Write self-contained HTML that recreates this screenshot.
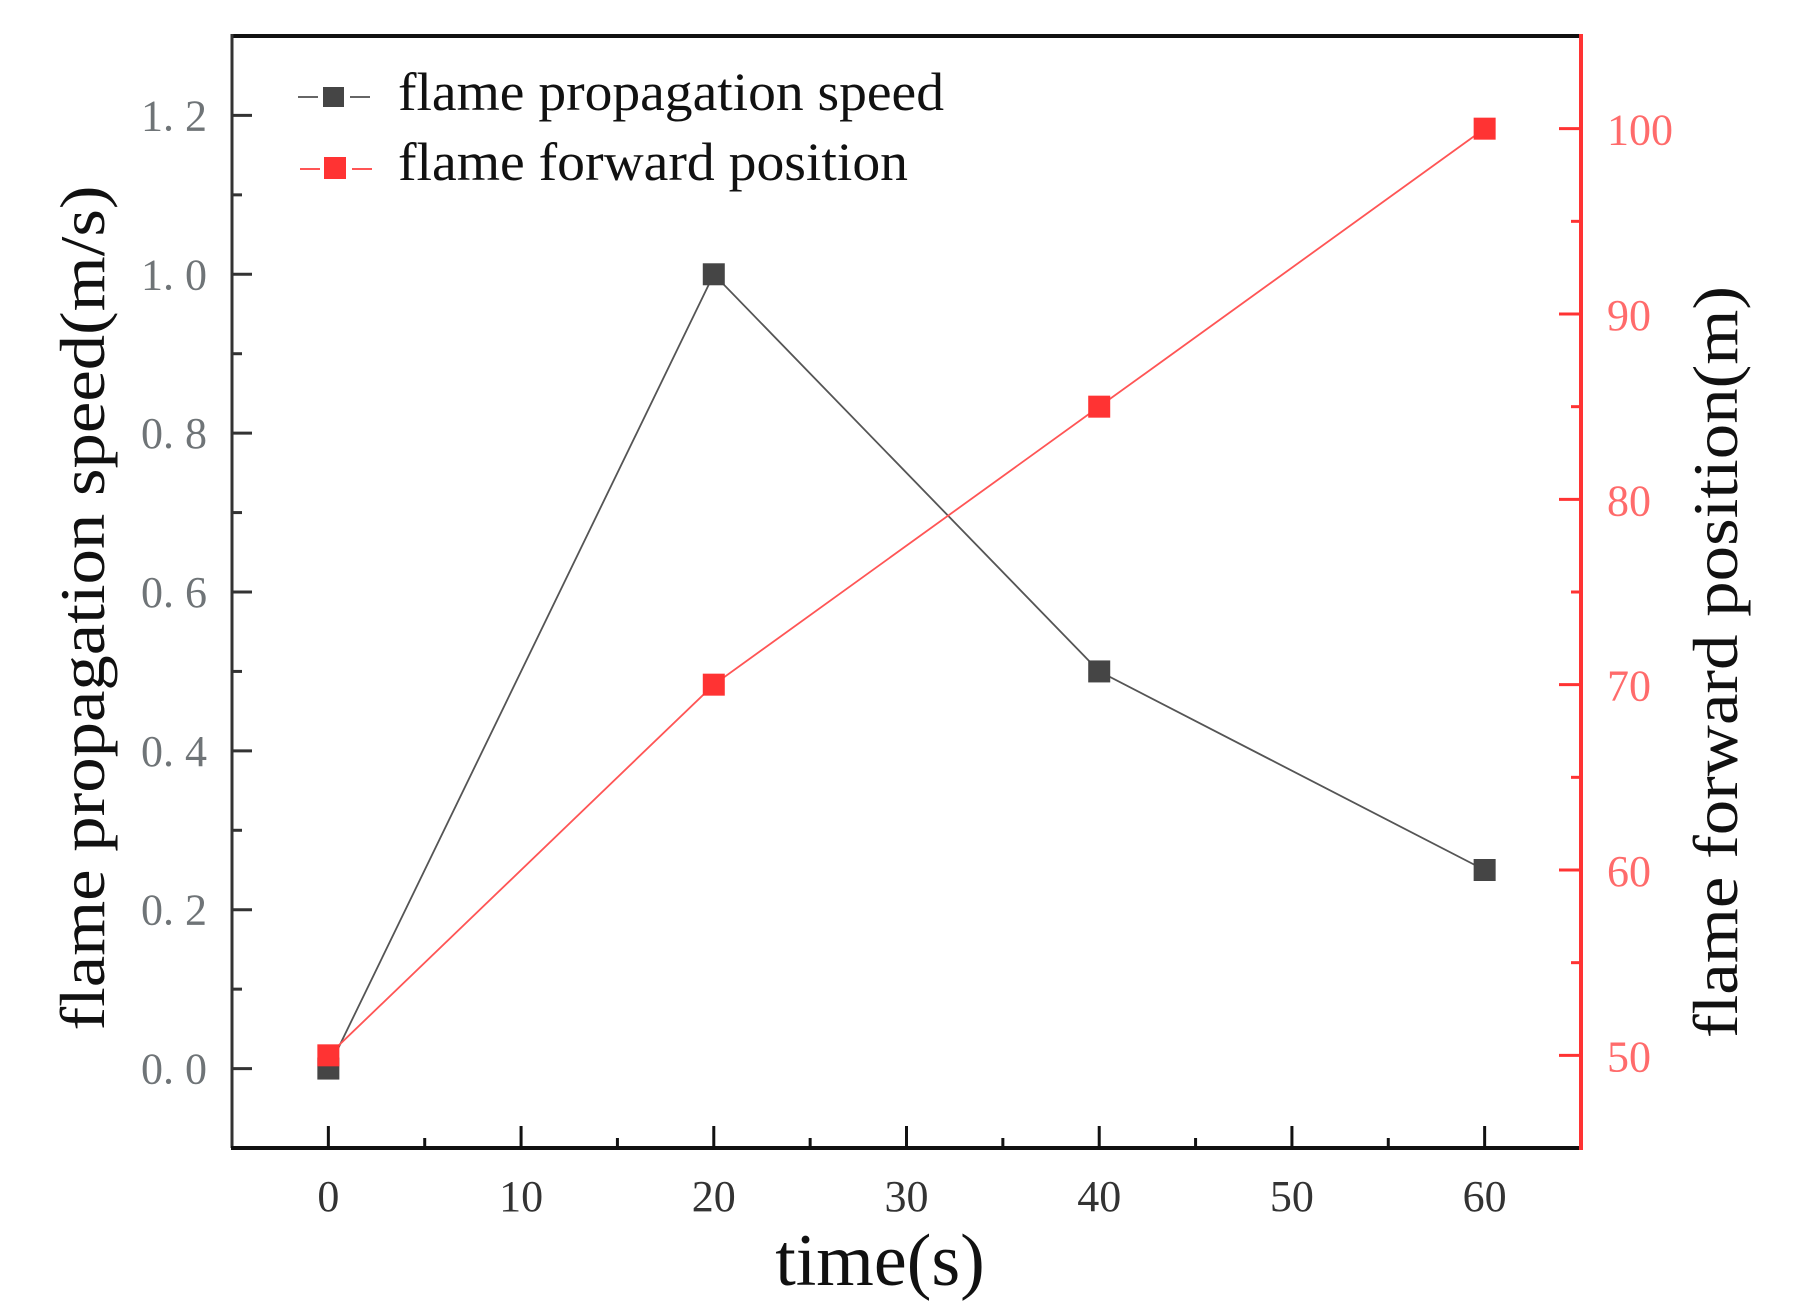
<!DOCTYPE html>
<html><head><meta charset="utf-8"><style>
html,body{margin:0;padding:0;background:#fff;}
svg{display:block;}
text{font-family:"Liberation Serif",serif;}
</style></head><body>
<svg id="chart" width="1793" height="1310" viewBox="0 0 1793 1310">
<g id="grid"></g>
</svg>
<script>
const categories = [0, 20, 40, 60];
const speedValues = [0, 1.0, 0.5, 0.25];
const positionValues = [50, 70, 85, 100];
const xTicks = [0, 10, 20, 30, 40, 50, 60];
const leftTicks = [0, 0.2, 0.4, 0.6, 0.8, 1.0, 1.2];
const leftTickLabels = ["0. 0","0. 2","0. 4","0. 6","0. 8","1. 0","1. 2"];
const rightTicks = [50, 60, 70, 80, 90, 100];

const L=232, R=1581, T=36, B=1148;
const X = v => L + (v - (-5)) / 70 * (R - L);
const YL = v => B - (v - (-0.1)) / 1.4 * (B - T);
const YR = v => B - (v - 45) / 60 * (B - T);
const NS="http://www.w3.org/2000/svg";
const svg=document.getElementById('chart');
function mk(tag, attrs, parent){const e=document.createElementNS(NS,tag);for(const k in attrs)e.setAttribute(k,attrs[k]);(parent||svg).appendChild(e);return e;}

let e;
e=mk('line',{x1:L,y1:T,x2:R,y2:T,stroke:'#111','stroke-width':4});


e=mk('line',{x1:L,y1:T-2,x2:L,y2:B,stroke:'#333','stroke-width':3});


e=mk('line',{x1:L-1,y1:B,x2:R,y2:B,stroke:'#111','stroke-width':4});


e=mk('line',{x1:R,y1:T-2,x2:R,y2:B+2,stroke:'#ff3333','stroke-width':4});



for(let v=0; v<=60; v+=5){
  const major = v%10===0;
  e=mk('line',{x1:X(v),y1:B,x2:X(v),y2:B-(major?22:10),stroke:'#111','stroke-width':3});
  
  
}
xTicks.forEach(v=>{
  e=mk('text',{x:X(v),y:1211,'text-anchor':'middle','font-size':44,fill:'#333'});
  e.textContent=v;
  
  
});
for(let i=0;i<=12;i++){
  const v=i/10; const major=i%2===0;
  e=mk('line',{x1:L,y1:YL(v),x2:L+(major?20:10),y2:YL(v),stroke:'#333','stroke-width':3});
  
  
}
leftTicks.forEach((v,i)=>{
  e=mk('text',{x:207,y:YL(v)+15,'text-anchor':'end','font-size':44,fill:'#6f7477'});
  e.textContent=leftTickLabels[i];
  
  
});
for(let v=45; v<=105; v+=5){
  if(v===45||v===105) continue;
  const major=v%10===0;
  e=mk('line',{x1:R,y1:YR(v),x2:R-(major?22:10),y2:YR(v),stroke:'#ff3333','stroke-width':3});
  
  
}
rightTicks.forEach(v=>{
  e=mk('text',{x:1607,y:YR(v)+16,'text-anchor':'start','font-size':44,fill:'#ff6b6b'});
  e.textContent=v;
  
  
});

let pts=categories.map((c,i)=>X(c)+','+YL(speedValues[i])).join(' ');
e=mk('polyline',{points:pts,fill:'none',stroke:'#555','stroke-width':1.8});


pts=categories.map((c,i)=>X(c)+','+YR(positionValues[i])).join(' ');
e=mk('polyline',{points:pts,fill:'none',stroke:'#ff5555','stroke-width':1.8});


categories.forEach((c,i)=>{
  e=mk('rect',{x:X(c)-11,y:YL(speedValues[i])-11,width:22,height:22,fill:'#454545'});
  
  
});
categories.forEach((c,i)=>{
  e=mk('rect',{x:X(c)-11,y:YR(positionValues[i])-11,width:22,height:22,fill:'#ff3333'});
  
  
});

// legend
e=mk('path',{d:'M298 97 H318 M350 97 H370',stroke:'#666','stroke-width':2});


e=mk('rect',{x:323,y:87,width:21,height:20,fill:'#454545'});


e=mk('text',{x:398,y:110,'font-size':54,fill:'#111',textLength:546,lengthAdjust:'spacingAndGlyphs'});
e.textContent='flame propagation speed';


e=mk('path',{d:'M300 169 H320 M352 169 H372',stroke:'#ff5555','stroke-width':2});


e=mk('rect',{x:324,y:157,width:22,height:22,fill:'#ff3333'});


e=mk('text',{x:398,y:180,'font-size':54,fill:'#111',textLength:510,lengthAdjust:'spacingAndGlyphs'});
e.textContent='flame forward position';



e=mk('text',{x:880,y:1285,'text-anchor':'middle','font-size':74,fill:'#111'});
e.textContent='time(s)';


e=mk('text',{x:0,y:0,'text-anchor':'middle','font-size':64,fill:'#111',transform:'translate(104,608) rotate(-90)',textLength:845,lengthAdjust:'spacingAndGlyphs'});
e.textContent='flame propagation speed(m/s)';


e=mk('text',{x:0,y:0,'text-anchor':'middle','font-size':64,fill:'#111',transform:'translate(1737,662) rotate(-90)',textLength:752,lengthAdjust:'spacingAndGlyphs'});
e.textContent='flame forward position(m)';


</script>
</body></html>
